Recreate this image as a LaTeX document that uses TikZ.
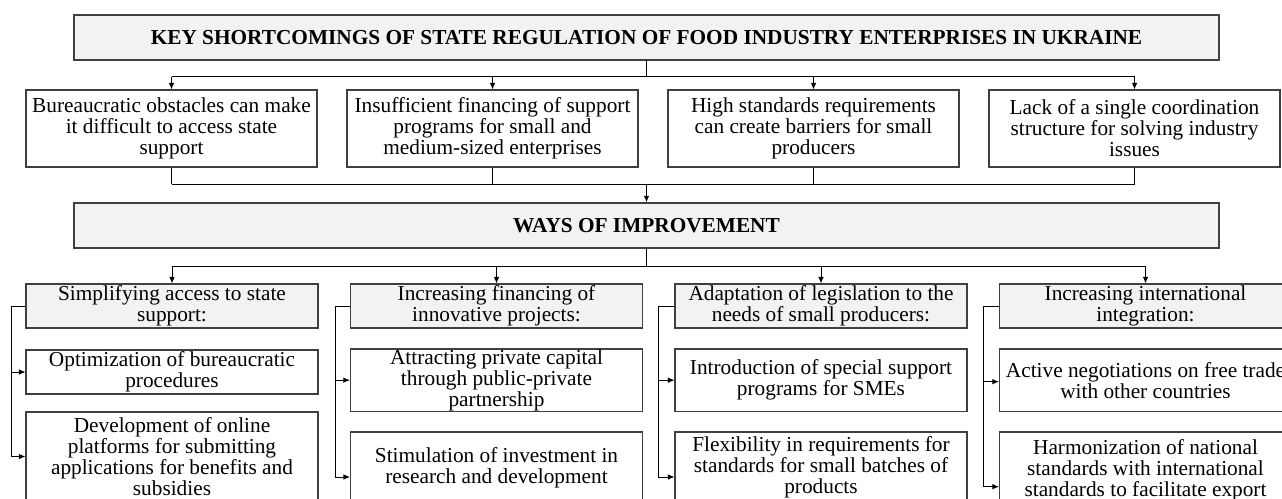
\documentclass[tikz,border=0pt]{standalone}
\usepackage{fontspec}
\setmainfont{Liberation Serif}
\usetikzlibrary{arrows.meta,calc}
\definecolor{boxgray}{RGB}{64,64,64}
\definecolor{headfill}{RGB}{242,242,242}
\begin{document}
\begin{tikzpicture}[x=1pt,y=-1pt,
  txt/.style={font=\fontsize{21.3}{21}\selectfont, align=center, text=black},
  box/.style={txt, draw=boxgray, line width=1.1pt, fill=white, minimum width=291pt, inner sep=0pt},
  hbox/.style={box, fill=headfill},
  link/.style={line width=0.9pt, draw=black},
  trunk/.style={line width=1.6pt, draw=black},
  arr/.style={-{Latex[length=6.5pt,width=5.5pt]}}]
\clip (0,0) rectangle (1282,498);
\fill[white] (0,0) rectangle (1282,498);

% title
\node[hbox, minimum width=1145pt, minimum height=45pt, font=\fontsize{21.3}{21}\selectfont\bfseries] (top) at (646.5,37.5)
  {KEY SHORTCOMINGS OF STATE REGULATION OF FOOD INDUSTRY ENTERPRISES IN UKRAINE};

% shortcomings
\node[box, minimum height=77pt] (s1) at (171.5,128.5) {Bureaucratic obstacles can make\\it difficult to access state\\support};
\node[box, minimum height=77pt] (s2) at (492.5,128.5) {Insufficient financing of support\\programs for small and\\medium-sized enterprises};
\node[box, minimum height=77pt] (s3) at (813.5,128.5) {High standards requirements\\can create barriers for small\\producers};
\node[box, minimum height=77pt] (s4) at (1134.5,128.5) {Lack of a single coordination\\structure for solving industry\\issues};

% ways
\node[hbox, minimum width=1145pt, minimum height=45pt, font=\fontsize{21.3}{21}\selectfont\bfseries] (ways) at (646.5,225.5)
  {WAYS OF IMPROVEMENT};

% headers
\node[hbox, minimum width=292pt, minimum height=44pt] (h1) at (172,306) {Simplifying access to state\\support:};
\node[hbox, minimum width=292pt, minimum height=44pt] (h2) at (496.5,306) {Increasing financing of\\innovative projects:};
\node[hbox, minimum width=292pt, minimum height=44pt] (h3) at (821,306) {Adaptation of legislation to the\\needs of small producers:};
\node[hbox, minimum width=292pt, minimum height=44pt] (h4) at (1145.5,306) {Increasing international\\integration:};

% sub boxes, first
\node[box, minimum width=292pt, minimum height=44pt] (a1) at (172,372) {Optimization of bureaucratic\\procedures};
\node[box, minimum width=292pt, minimum height=62.5pt] (a2) at (496.5,380.2) {Attracting private capital\\through public-private\\partnership};
\node[box, minimum width=292pt, minimum height=62.5pt] (a3) at (821,380.2) {Introduction of special support\\programs for SMEs};
\node[box, minimum width=292pt, minimum height=62.5pt] (a4) at (1145.5,380.2) {Active negotiations on free trade\\with other countries};

% sub boxes, second
\node[box, minimum width=292pt, minimum height=89pt] (b1) at (172,456.5) {Development of online\\platforms for submitting\\applications for benefits and\\subsidies};
\node[box, minimum width=292pt, minimum height=72pt] (b2) at (496.5,468) {Stimulation of investment in\\research and development};
\node[box, minimum width=292pt, minimum height=70pt] (b3) at (821,467) {Flexibility in requirements for\\standards for small batches of\\products};
\node[box, minimum width=292pt, minimum height=76pt] (b4) at (1145.5,470) {Harmonization of national\\standards with international\\standards to facilitate export};

% connectors: title -> shortcomings
\coordinate (j1) at (646.5,76.7);
\draw[trunk] (top.south) -- (top.south |- j1);
\draw[link] (s1.north |- j1) -- (s4.north |- j1);
\foreach \n in {s1,s2,s3,s4} \draw[link,arr] (\n.north |- j1) -- (\n.north);

% shortcomings -> ways
\coordinate (j2) at (646.5,184);
\foreach \n in {s1,s2,s3,s4} \draw[link] (\n.south) -- (\n.south |- j2);
\draw[link] (s1.south |- j2) -- (s4.south |- j2);
\draw[trunk,arr] (ways.north |- j2) -- (ways.north);

% ways -> headers
\coordinate (j3) at (646.5,266);
\draw[trunk] (ways.south) -- (ways.south |- j3);
\draw[link] (h1.north |- j3) -- (h4.north |- j3);
\foreach \n in {h1,h2,h3,h4} \draw[link,arr] (\n.north |- j3) -- (\n.north);

% brackets
\coordinate (e2) at ([yshift=-9pt]b2.west);
\coordinate (e3) at ([yshift=-10pt]b3.west);
\coordinate (e4) at ([yshift=-16.7pt]b4.west);
\coordinate (f4) at ([yshift=-1.5pt]a4.west);
\draw[link,arr] (h1.west) -- ++(-14.5,0) coordinate (k1) |- (b1.west);
\draw[link,arr] (k1 |- a1.west) -- (a1.west);
\draw[link,arr] (h2.west) -- ++(-15,0) coordinate (k2) |- (e2);
\draw[link,arr] (k2 |- a2.west) -- (a2.west);
\draw[link,arr] (h3.west) -- ++(-16,0) coordinate (k3) |- (e3);
\draw[link,arr] (k3 |- a3.west) -- (a3.west);
\draw[link,arr] (h4.west) -- ++(-16,0) coordinate (k4) |- (e4);
\draw[link,arr] (k4 |- f4) -- (f4);
\end{tikzpicture}
\end{document}
